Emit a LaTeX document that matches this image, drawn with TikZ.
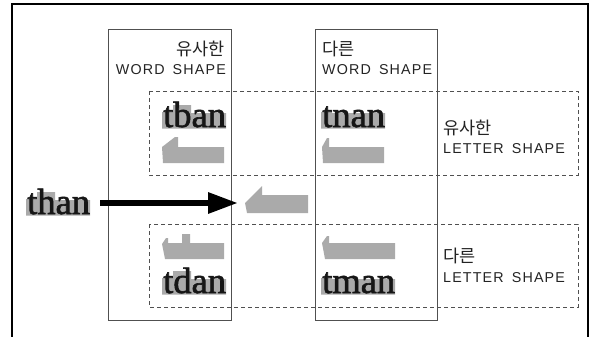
\documentclass[tikz,border=0pt]{standalone}
\usepackage{fontspec}
\setmainfont{Liberation Serif}
\newfontfamily\wordfont[FakeBold=1.6]{Liberation Serif}
\newfontfamily\kr{Noto Sans CJK KR}
\newfontfamily\lab[LetterSpace=8]{Liberation Sans}
\usetikzlibrary{arrows.meta}
\definecolor{shapegray}{RGB}{170,170,170}
\definecolor{boxline}{RGB}{80,80,80}
\definecolor{ink}{RGB}{22,22,22}
\definecolor{labink}{RGB}{35,35,35}
\tikzset{
  wordbox/.style={draw=boxline, line width=0.9pt},
  letterbox/.style={draw=boxline, line width=0.8pt, dash pattern=on 4pt off 3pt},
  wordtxt/.style={inner sep=0pt, anchor=base west, text=ink, font=\wordfont\fontsize{36.5}{36.5}\selectfont},
  krtxt/.style={inner sep=0pt, text=labink, font=\kr\fontsize{17.5}{17.5}\selectfont},
  lattxt/.style={inner sep=0pt, text=labink, font=\lab\fontsize{14.3}{14.3}\selectfont},
  silhouette/.style={fill=shapegray, draw=none},
}
\begin{document}
\begin{tikzpicture}[x=1pt,y=-1pt]
\useasboundingbox (0,0) rectangle (592,337);
\fill[white] (0,0) rectangle (592,337);
% outer frame
\draw[line width=1.5pt, black] (12,337) -- (12,4) -- (588,4) -- (588,337);
% solid word-shape boxes
\draw[wordbox] (108,29) rectangle (231,320);
\draw[wordbox] (315,29) rectangle (437,320);
% dashed letter-shape boxes
\draw[letterbox] (149,91) rectangle (578,175);
\draw[letterbox] (149,224) rectangle (578,307);
% labels
\node[krtxt, anchor=base east] (simW) at (225,56) {유사한};
\node[lattxt, anchor=base east] (wsA) at (226,75) {WORD\hspace{3pt} SHAPE};
\node[krtxt, anchor=base west] (difW) at (322,56) {다른};
\node[lattxt, anchor=base west] (wsB) at (322,75) {WORD\hspace{3pt} SHAPE};
\node[krtxt, anchor=base west] (simL) at (443,134) {유사한};
\node[lattxt, anchor=base west] (lsA) at (443,153) {LETTER\hspace{3pt} SHAPE};
\node[krtxt, anchor=base west] (difL) at (443,262) {다른};
\node[lattxt, anchor=base west] (lsB) at (443,282) {LETTER\hspace{3pt} SHAPE};
% word envelopes (gray backdrop)
\begin{scope}[shift={(27,214)}]
\fill[silhouette] (-1,1.5) -- (-1,-15) -- (10,-15) -- (10,-22) -- (28,-22) -- (28,-14) -- (63,-14) -- (63,1.5) -- cycle;
\end{scope}
\begin{scope}[shift={(163,127)}]
\fill[silhouette] (-1,1.5) -- (-1,-15) -- (10,-15) -- (10,-22) -- (28,-22) -- (28,-14) -- (63,-14) -- (63,1.5) -- cycle;
\end{scope}
\begin{scope}[shift={(322,127)}]
\fill[silhouette] (-1,1.5) -- (-1,-15) -- (10,-15) -- (10,-14) -- (63,-14) -- (63,1.5) -- cycle;
\end{scope}
\begin{scope}[shift={(163,293)}]
\fill[silhouette] (-1,1.5) -- (-1,-15) -- (10,-15) -- (10,-22) -- (28,-22) -- (28,-14) -- (63,-14) -- (63,1.5) -- cycle;
\end{scope}
\begin{scope}[shift={(322,293)}]
\fill[silhouette] (-1,1.5) -- (-1,-15) -- (10,-15) -- (10,-14) -- (73,-14) -- (73,1.5) -- cycle;
\end{scope}
% words
\node[wordtxt] (than) at (27,214) {than};
\node[wordtxt] (tban) at (163,127) {tban};
\node[wordtxt] (tnan) at (322,127) {tnan};
\node[wordtxt] (tdan) at (163,293) {tdan};
\node[wordtxt] (tman) at (322,293) {tman};
% word-shape silhouettes
\fill[silhouette] (163,163) -- (162,147) -- (175,137) -- (178,137) -- (178,147) -- (224,147) -- (224,163) -- cycle;
\fill[silhouette] (323,163) -- (322,147) -- (327,138) -- (329,138) -- (329,147) -- (384,147) -- (384,163) -- cycle;
\fill[silhouette] (247,213) -- (245,203) -- (262,186) -- (262,195) -- (308,195) -- (308,213) -- cycle;
\fill[silhouette] (165,259) -- (162,244) -- (166,238) -- (168,238) -- (168,243) -- (182,243) -- (182,234) -- (190,234) -- (190,243) -- (224,243) -- (224,259) -- cycle;
\fill[silhouette] (325,259) -- (322,243) -- (327,236) -- (329,236) -- (329,243) -- (395,243) -- (395,259) -- cycle;
% arrow
\coordinate (arrS) at (100,203);
\coordinate (arrE) at (238,203);
\draw[line width=6pt, black, -{Triangle[length=30pt,width=20pt]}] (arrS) -- (arrE);
\end{tikzpicture}
\end{document}
